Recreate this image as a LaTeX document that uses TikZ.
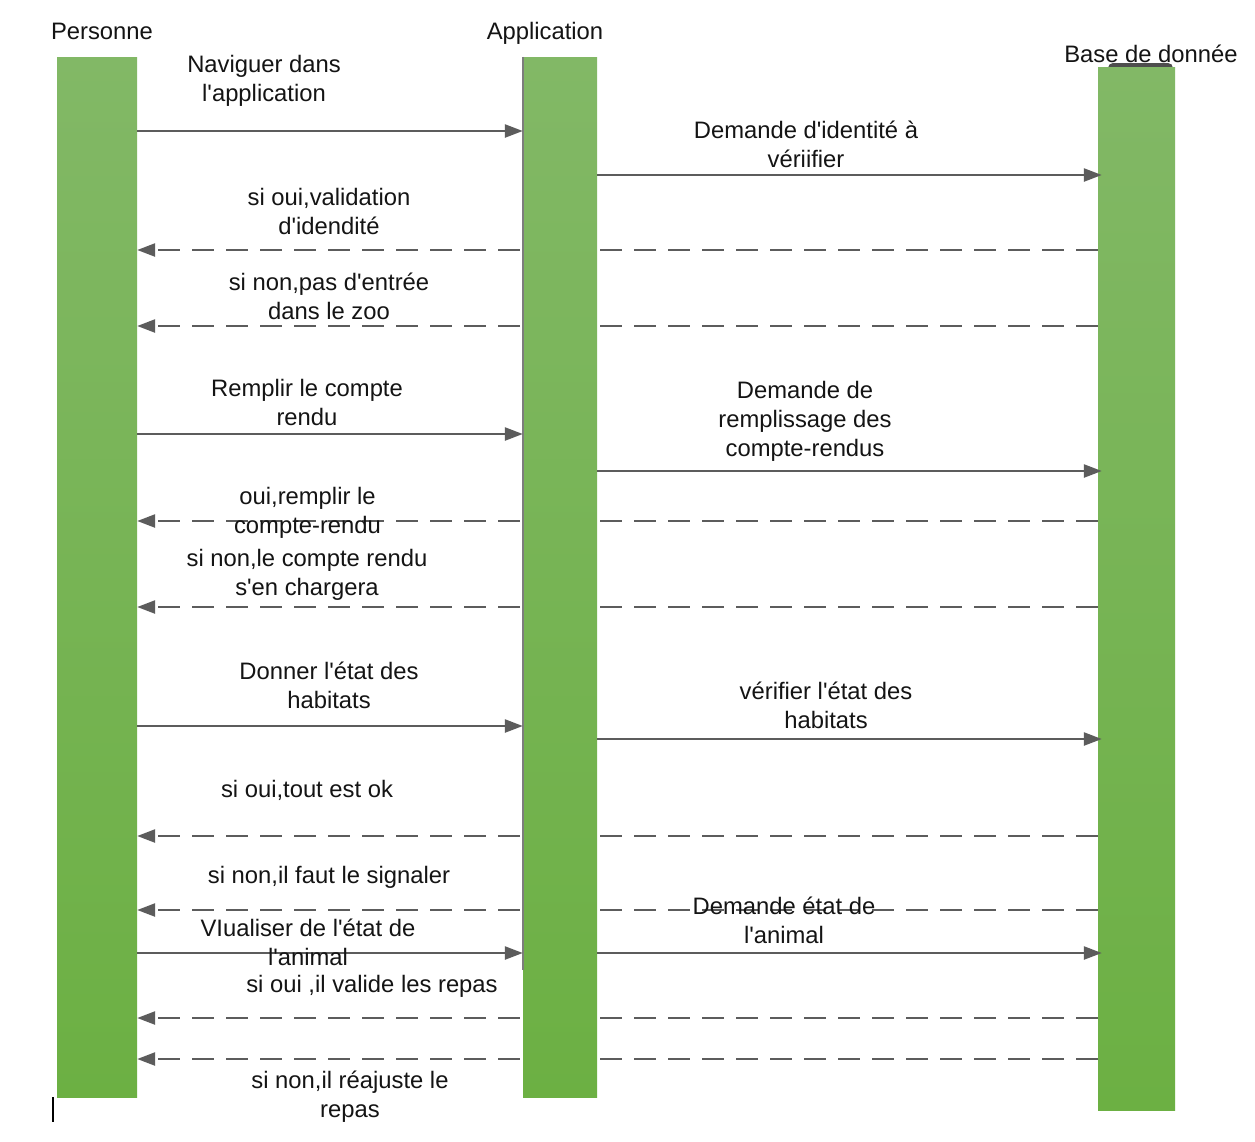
\documentclass[tikz,border=0pt]{standalone}
\usepackage{fontspec}
\setmainfont{Liberation Sans}
\usetikzlibrary{arrows.meta}
\pgfdeclarelayer{back}
\pgfdeclarelayer{bg}
\pgfsetlayers{back,bg,main}
\definecolor{barTop}{HTML}{82B866}
\definecolor{barBot}{HTML}{6CB043}
\definecolor{lineC}{HTML}{5C5C5C}
\newcommand\ap{\textquotesingle}
\begin{document}
\begin{tikzpicture}[x=1pt,y=-1pt,
  bar/.style={rectangle, inner sep=0pt, top color=barTop, bottom color=barBot, draw=none},
  lbl/.style={font=\fontsize{23.8}{29}\selectfont, align=center, anchor=base, inner sep=0pt, text=black!92},
  msg/.style={draw=lineC, line width=2.5pt, -{Triangle[length=18pt,width=13pt]}},
  ret/.style={msg, dash pattern=on 22pt off 12pt}]
\begin{pgfonlayer}{back}
  \fill[white] (0,0) rectangle (1255,1141);
\end{pgfonlayer}
\useasboundingbox (0,0) rectangle (1255,1141);

% lifelines
\begin{pgfonlayer}{bg}
  \fill[lineC!85!black, rounded corners=5pt] (1108,63) rectangle (1173,82);
\end{pgfonlayer}
\node[bar, minimum width=80pt, minimum height=1040pt] (P) at (97,577) {};
\node[bar, minimum width=74pt, minimum height=1040pt] (A) at (560,577) {};
\node[bar, minimum width=77pt, minimum height=1043pt] (B) at (1136.5,588.5) {};
\draw[lineC!80, line width=1.5pt] (A.north west) -- (A.west |- 0,970);
\coordinate (cur) at (53,1097);
\draw[black, line width=2pt] (cur) -- ++(0,25);

% headers
\node[lbl] (hP) at (102,39) {Personne};
\node[lbl] (hA) at (545,39) {Application};
\node[lbl] (hB) at (1151,62) {Base de donnée};

% messages Personne -> Application
\draw[msg] (P.east |- 0,131) -- (A.west |- 0,131);
\draw[msg] (P.east |- 0,434) -- (A.west |- 0,434);
\draw[msg] (P.east |- 0,726) -- (A.west |- 0,726);
\draw[msg] (P.east |- 0,953) -- (A.west |- 0,953);

% messages Application -> Base
\draw[msg, shorten >=-4pt] (A.east |- 0,175) -- (B.west |- 0,175);
\draw[msg, shorten >=-4pt] (A.east |- 0,471) -- (B.west |- 0,471);
\draw[msg, shorten >=-4pt] (A.east |- 0,739) -- (B.west |- 0,739);
\draw[msg, shorten >=-4pt] (A.east |- 0,953) -- (B.west |- 0,953);

% returns Base -> Personne (behind the application bar)
\begin{pgfonlayer}{bg}
  \draw[ret] (B.west |- 0,250) -- (P.east |- 0,250);
  \draw[ret] (B.west |- 0,326) -- (P.east |- 0,326);
  \draw[ret] (B.west |- 0,521) -- (P.east |- 0,521);
  \draw[ret] (B.west |- 0,607) -- (P.east |- 0,607);
  \draw[ret] (B.west |- 0,836) -- (P.east |- 0,836);
  \draw[ret] (B.west |- 0,910) -- (P.east |- 0,910);
  \draw[ret] (B.west |- 0,1018) -- (P.east |- 0,1018);
  \draw[ret] (B.west |- 0,1059) -- (P.east |- 0,1059);
\end{pgfonlayer}

% labels (anchored at the baseline of their last line)
\node[lbl] (l1) at (264,101) {Naviguer dans\\l\ap application};
\node[lbl] (l2) at (806,167) {Demande d\ap identité à\\vériifier};
\node[lbl] (l3) at (329,234) {si oui,validation\\d\ap idendité};
\node[lbl] (l4) at (329,319) {si non,pas d\ap entrée\\dans le zoo};
\node[lbl] (l5) at (307,425) {Remplir le compte\\rendu};
\node[lbl] (l6) at (805,456) {Demande de\\remplissage des\\compte-rendus};
\node[lbl] (l7) at (307.5,533) {oui,remplir le\\compte-rendu};
\node[lbl] (l8) at (307,595) {si non,le compte rendu\\s\ap en chargera};
\node[lbl] (l9) at (329,708) {Donner l\ap état des\\habitats};
\node[lbl] (l10) at (826,728) {vérifier l\ap état des\\habitats};
\node[lbl] (l11) at (307,797) {si oui,tout est ok};
\node[lbl] (l12) at (329,883) {si non,il faut le signaler};
\node[lbl] (l13) at (784,943) {Demande état de\\l\ap animal};
\node[lbl] (l14) at (308,965) {VIualiser de l\ap état de\\l\ap animal};
\node[lbl] (l15) at (372,992) {si oui ,il valide les repas};
\node[lbl] (l16) at (350,1117) {si non,il réajuste le\\repas};
\end{tikzpicture}
\end{document}
